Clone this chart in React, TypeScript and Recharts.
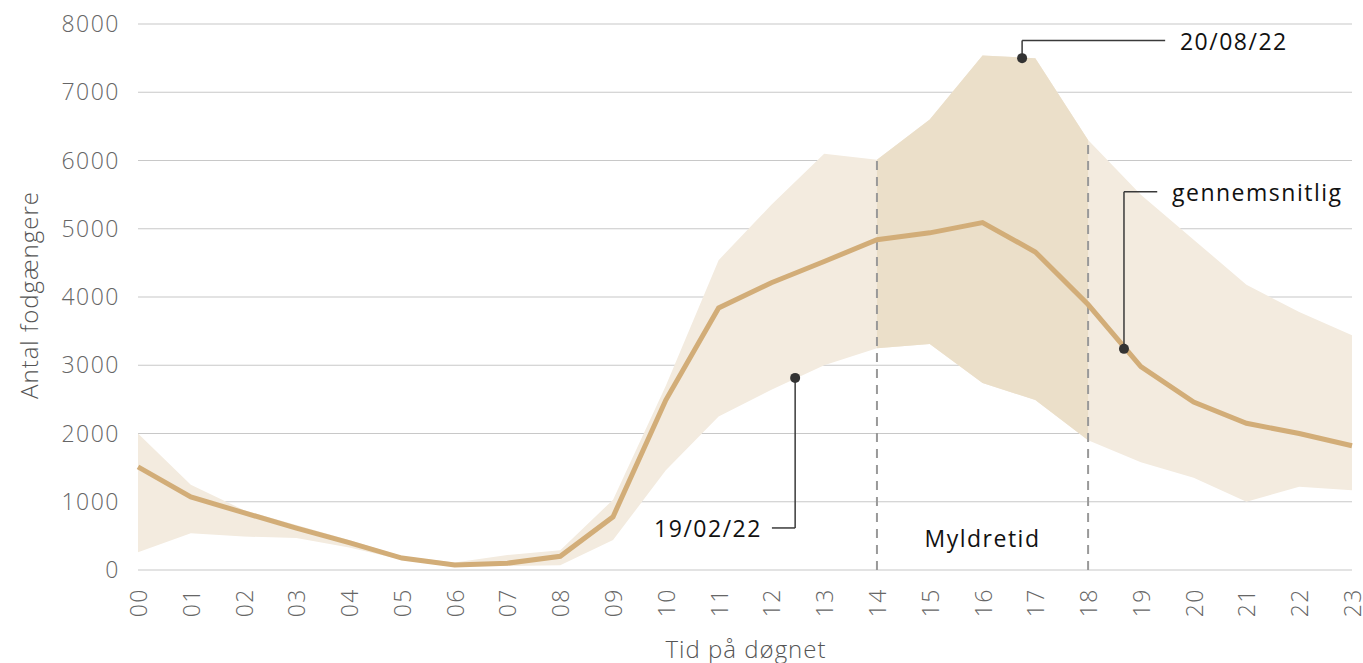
import React from "react";
import {
  ComposedChart,
  Area,
  Line,
  XAxis,
  YAxis,
  CartesianGrid,
  ReferenceLine,
  ReferenceDot,
} from "recharts";

const hours = [0, 1, 2, 3, 4, 5, 6, 7, 8, 9, 10, 11, 12, 13, 14, 15, 16, 17, 18, 19, 20, 21, 22, 23];
const average = [1510, 1070, 840, 615, 400, 175, 75, 100, 200, 780, 2490, 3840, 4210, 4520, 4840, 4940, 5090, 4660, 3890, 2980, 2460, 2150, 2000, 1820];
const maxValues = [2000, 1250, 880, 660, 440, 200, 110, 220, 290, 1030, 2700, 4540, 5350, 6100, 6010, 6600, 7540, 7500, 6300, 5500, 4840, 4180, 3780, 3440];
const minValues = [260, 540, 490, 470, 330, 150, 50, 60, 70, 440, 1460, 2250, 2640, 3000, 3250, 3310, 2740, 2490, 1900, 1580, 1350, 1000, 1220, 1170];
const rushStart = 14;
const rushEnd = 18;
const yTicks = [0, 1000, 2000, 3000, 4000, 5000, 6000, 7000, 8000];

const data = hours.map((h, i) => ({
  hour: h,
  avg: average[i],
  range: [minValues[i], maxValues[i]],
  rush: h >= rushStart && h <= rushEnd ? [minValues[i], maxValues[i]] : null,
}));

const FONT = "'Open Sans', sans-serif";
const LINE_COLOR = "#d2ad78";
const LIGHT_BAND = "#f3ebdf";
const DARK_BAND = "#ebdfc9";
const INK = "#3a3a3a";

const XTick = (props: any) => {
  const { x, y, payload } = props;
  return (
    <text
      x={x}
      y={y + 10}
      transform={`rotate(-90, ${x}, ${y + 10})`}
      textAnchor="end"
      dominantBaseline="central"
      fill="#666"
      fontSize={23}
      letterSpacing={1.5}
      fontFamily={FONT}
      fontWeight={300}
    >
      {String(payload.value).padStart(2, "0")}
    </text>
  );
};

const textLabel = (value: string, anchor: "start" | "end" | "middle", color = "#111") => (props: any) => {
  const { viewBox } = props;
  const cx = viewBox.x + viewBox.width / 2;
  const cy = viewBox.y + viewBox.height / 2;
  return (
    <text
      x={cx}
      y={cy}
      textAnchor={anchor}
      dominantBaseline="central"
      fill={color}
      fontSize={23}
      letterSpacing={1.5}
      fontFamily={FONT}
    >
      {value}
    </text>
  );
};

export default function App() {
  return (
    <div style={{ width: 1363, height: 663, background: "#fff" }}>
      <style>{`body{margin:0}`}</style>
      <ComposedChart
        width={1363}
        height={663}
        data={data}
        margin={{ top: 24, right: 11, bottom: 0, left: 0 }}
      >
        <CartesianGrid vertical={false} stroke="#c8c8c8" strokeWidth={1.2} />
        <XAxis
          dataKey="hour"
          type="number"
          domain={[0, 23]}
          ticks={hours}
          interval={0}
          axisLine={false}
          tickLine={false}
          height={93}
          tick={<XTick />}
          label={{
            content: () => (
              <text x={746} y={648} textAnchor="middle" dominantBaseline="central" fill="#555" fontSize={24} letterSpacing={1} fontFamily={FONT} fontWeight={300}>
                Tid på døgnet
              </text>
            ),
          }}
        />
        <YAxis
          domain={[0, 8000]}
          ticks={yTicks}
          width={138}
          axisLine={false}
          tickLine={false}
          tickMargin={12}
          tick={{ fill: "#666", fontSize: 23, letterSpacing: 1.5, fontFamily: FONT, fontWeight: 300 }}
          label={{
            content: () => (
              <text x={28} y={295} transform="rotate(-90, 28, 295)" textAnchor="middle" dominantBaseline="central" fill="#555" fontSize={24} letterSpacing={1} fontFamily={FONT} fontWeight={300}>
                Antal fodgængere
              </text>
            ),
          }}
        />
        <Area
          dataKey="range"
          stroke="none"
          fill={LIGHT_BAND}
          fillOpacity={1}
          isAnimationActive={false}
          activeDot={false}
        />
        <Area
          dataKey="rush"
          stroke="none"
          fill={DARK_BAND}
          fillOpacity={1}
          isAnimationActive={false}
          activeDot={false}
        />
        <ReferenceLine segment={[{ x: rushStart, y: 0 }, { x: rushStart, y: maxValues[rushStart] }]} stroke="#999" strokeWidth={2} strokeDasharray="9 7" />
        <ReferenceLine segment={[{ x: rushEnd, y: 0 }, { x: rushEnd, y: maxValues[rushEnd] }]} stroke="#999" strokeWidth={2} strokeDasharray="9 7" />
        <Line
          dataKey="avg"
          stroke={LINE_COLOR}
          strokeWidth={5}
          dot={false}
          activeDot={false}
          isAnimationActive={false}
        />

        {/* 20/08/22 */}
        <ReferenceLine segment={[{ x: 16.75, y: 7500 }, { x: 16.75, y: 7757 }]} stroke={INK} strokeWidth={1.5} />
        <ReferenceLine segment={[{ x: 16.75, y: 7757 }, { x: 19.46, y: 7757 }]} stroke={INK} strokeWidth={1.5} />
        <ReferenceDot x={16.75} y={7500} r={5} fill="#333" stroke="none" />
        <ReferenceDot x={19.74} y={7757} r={1} fillOpacity={0} stroke="none" label={textLabel("20/08/22", "start")} />

        {/* 19/02/22 */}
        <ReferenceLine segment={[{ x: 12.45, y: 2815 }, { x: 12.45, y: 616 }]} stroke={INK} strokeWidth={1.5} />
        <ReferenceLine segment={[{ x: 12.45, y: 616 }, { x: 12.01, y: 616 }]} stroke={INK} strokeWidth={1.5} />
        <ReferenceDot x={12.45} y={2815} r={5} fill="#333" stroke="none" />
        <ReferenceDot x={11.82} y={616} r={1} fillOpacity={0} stroke="none" label={textLabel("19/02/22", "end")} />

        {/* gennemsnitlig */}
        <ReferenceLine segment={[{ x: 18.68, y: 3240 }, { x: 18.68, y: 5543 }]} stroke={INK} strokeWidth={1.5} />
        <ReferenceLine segment={[{ x: 18.68, y: 5543 }, { x: 19.31, y: 5543 }]} stroke={INK} strokeWidth={1.5} />
        <ReferenceDot x={18.68} y={3240} r={5} fill="#333" stroke="none" />
        <ReferenceDot x={19.59} y={5543} r={1} fillOpacity={0} stroke="none" label={textLabel("gennemsnitlig", "start")} />

        <ReferenceDot x={16} y={469} r={1} fillOpacity={0} stroke="none" label={textLabel("Myldretid", "middle")} />
      </ComposedChart>
    </div>
  );
}
